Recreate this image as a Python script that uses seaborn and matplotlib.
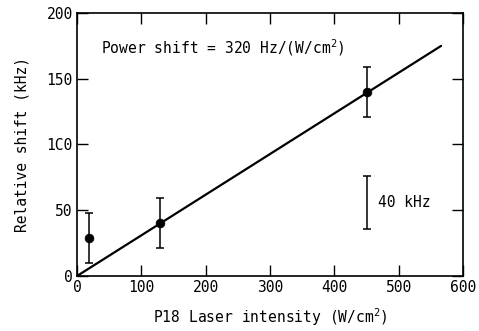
import numpy as np
import pandas as pd
import matplotlib
matplotlib.use("Agg")
import matplotlib.pyplot as plt
import seaborn as sns

# measured points (intensity in W/cm^2, shift in kHz)
intensity = [18, 129, 451]
shift = [29, 40, 140]
shift_err = [19, 19, 19]

# fitted line
fit_x = [0, 566]
fit_y = [0, 175]

# 40 kHz scale bar
bar_x = 451
bar_lo = 36
bar_hi = 76

x_ticks = [0, 100, 200, 300, 400, 500, 600]
y_ticks = [0, 50, 100, 150, 200]
y_tick_labels = ["0", "50", "1C0", "150", "200"]

sns.set_theme(style="ticks")
plt.rcParams['font.family'] = ['DejaVu Sans Mono', 'DejaVu Sans']
plt.rcParams['mathtext.fontset'] = 'custom'
plt.rcParams['mathtext.rm'] = 'DejaVu Sans Mono'
plt.rcParams['mathtext.it'] = 'DejaVu Sans Mono'
plt.rcParams['text.color'] = 'black'
plt.rcParams['axes.labelcolor'] = 'black'

fig = plt.figure(figsize=(4.79, 3.31), dpi=100)
ax = fig.add_axes([0.1608, 0.1662, 0.8058, 0.7945])

pts = pd.DataFrame({"x": intensity, "y": shift})
fit = pd.DataFrame({"x": fit_x, "y": fit_y})

sns.lineplot(data=fit, x="x", y="y", ax=ax, color="black", lw=1.6)
ax.errorbar(intensity, shift, yerr=shift_err, fmt="none", ecolor="black",
            elinewidth=1.1, capsize=3, capthick=1.1)
sns.scatterplot(data=pts, x="x", y="y", ax=ax, color="black", s=40,
                edgecolor="black", zorder=5)

ax.errorbar([bar_x], [(bar_lo + bar_hi) / 2], yerr=[(bar_hi - bar_lo) / 2],
            fmt="none", ecolor="black", elinewidth=1.1, capsize=3, capthick=1.1)
ax.text(468, 56, "40 kHz", fontsize=10.5, va="center", ha="left", color="black")

ax.text(37, 174, "Power shift = 320 Hz/(W/cm$^2$)", fontsize=10.5,
        va="center", ha="left", color="black")

ax.set_xlim(0, 600)
ax.set_ylim(0, 200)
ax.set_xticks(x_ticks)
ax.set_yticks(y_ticks)
ax.set_yticklabels(y_tick_labels)
ax.tick_params(direction="in", length=8, width=1, top=True, right=True,
               labelsize=10.5, colors="black")
ax.tick_params(axis="x", pad=3)
ax.tick_params(axis="y", pad=3)
for sp in ax.spines.values():
    sp.set_linewidth(1.2)
    sp.set_color("black")

ax.set_xlabel("P18 Laser intensity (W/cm$^2$)", fontsize=10.5, labelpad=8,
              color="black")
ax.set_ylabel("Relative shift (kHz)", fontsize=10.5, labelpad=12,
              color="black")

fig.savefig("out.png", dpi=100)
